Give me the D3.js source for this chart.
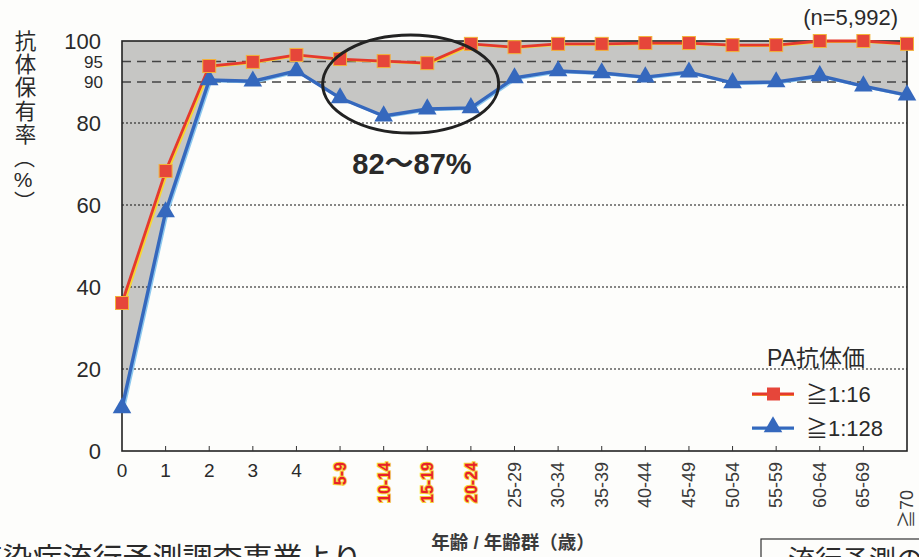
<!DOCTYPE html>
<html>
<head>
<meta charset="utf-8">
<script src="https://cdn.jsdelivr.net/npm/d3@7"></script>
<style>
  body { margin: 0; background: #fdfdfb; }
  svg { font-family: "Liberation Sans", "Noto Sans CJK JP", sans-serif; }
</style>
</head>
<body>
<svg width="919" height="557"></svg>
<script>
// age groups on the x axis
const ages = ['0', '1', '2', '3', '4', '5-9', '10-14', '15-19', '20-24', '25-29', '30-34',
    '35-39', '40-44', '45-49', '50-54', '55-59', '60-64', '65-69', '≧70']
const highlight = ['5-9', '10-14', '15-19', '20-24']

// antibody prevalence (%) by PA titer
const titer16 = [36.1, 68.3, 93.9, 94.9, 96.6, 95.6, 95.1, 94.6, 99.3, 98.5, 99.3,
    99.3, 99.5, 99.5, 99.0, 99.0, 100, 100, 99.3]
const titer128 = [10.5, 58.3, 90.5, 90.2, 92.7, 86.1, 81.7, 83.4, 83.7, 91.0, 92.7,
    92.2, 91.2, 92.4, 89.8, 90.0, 91.5, 89.0, 86.8]

const yTicks = [0, 20, 40, 60, 80, 90, 95, 100]
const dottedLines = [20, 40, 60, 80]
const dashedLines = [90, 95]

const svg = d3.select('svg')
const pLeft = 122, pRight = 907, pTop = 41, pBottom = 451

const x = d3.scalePoint().domain(ages).range([pLeft, pRight])
const y = d3.scaleLinear().domain([0, 100]).range([pBottom, pTop])

const red = '#e5392d', yellow = '#f7d631', blue = '#3568bd', lightBlue = '#8cc8ee'

// gray band between 100% and the >=1:128 line
const area = d3.area()
    .x((d, i) => x(ages[i]))
    .y0(y(100))
    .y1(d => y(d))
svg.append('path')
    .datum(titer128)
    .attr('d', area)
    .style('fill', '#c6c6c4')

// gridlines
svg.selectAll('line.dot')
    .data(dottedLines)
    .enter().append('line')
    .attr('x1', pLeft).attr('x2', pRight)
    .attr('y1', d => y(d)).attr('y2', d => y(d))
    .style('stroke', '#111')
    .style('stroke-width', 1.1)
    .style('stroke-dasharray', '2,2')
svg.selectAll('line.dash')
    .data(dashedLines)
    .enter().append('line')
    .attr('x1', pLeft).attr('x2', pRight)
    .attr('y1', d => y(d)).attr('y2', d => y(d))
    .style('stroke', '#444')
    .style('stroke-width', 1.3)
    .style('stroke-dasharray', '9,6')

// frame
svg.append('rect')
    .attr('x', pLeft).attr('y', pTop)
    .attr('width', pRight - pLeft).attr('height', pBottom - pTop)
    .style('fill', 'none')
    .style('stroke', '#222')
    .style('stroke-width', 1.6)

// x ticks pointing up
svg.selectAll('line.tick')
    .data(ages.slice(1, -1))
    .enter().append('line')
    .attr('x1', d => x(d)).attr('x2', d => x(d))
    .attr('y1', pBottom).attr('y2', pBottom - 5)
    .style('stroke', '#333')
    .style('stroke-width', 1)

// y tick labels
svg.selectAll('text.ytick')
    .data(yTicks)
    .enter().append('text')
    .attr('x', d => (d == 90 || d == 95) ? 103 : 101)
    .attr('y', d => y(d))
    .attr('dy', '0.36em')
    .attr('text-anchor', 'end')
    .style('font-size', d => (d == 90 || d == 95) ? '17px' : '22px')
    .style('fill', '#2a2a2a')
    .text(d => d)

// lines
const line = d3.line().x((d, i) => x(ages[i])).y(d => y(d))
svg.append('path').datum(titer128).attr('d', line)
    .attr('transform', 'translate(1.8,1)')
    .style('fill', 'none').style('stroke', lightBlue).style('stroke-width', 2.5)
svg.append('path').datum(titer128).attr('d', line)
    .style('fill', 'none').style('stroke', blue).style('stroke-width', 3.4)
svg.append('path').datum(titer16).attr('d', line)
    .attr('transform', 'translate(2,0.8)')
    .style('fill', 'none').style('stroke', yellow).style('stroke-width', 2.2)
svg.append('path').datum(titer16).attr('d', line)
    .style('fill', 'none').style('stroke', red).style('stroke-width', 2.8)

// markers
const tri = d3.symbol().type(d3.symbolTriangle).size(150)
svg.selectAll('path.tri')
    .data(titer128)
    .enter().append('path')
    .attr('d', tri)
    .attr('transform', (d, i) => `translate(${x(ages[i])},${y(d)})`)
    .style('fill', blue)
svg.selectAll('rect.sq')
    .data(titer16)
    .enter().append('rect')
    .attr('x', (d, i) => x(ages[i]) - 6.5)
    .attr('y', d => y(d) - 6.5)
    .attr('width', 13).attr('height', 13)
    .style('fill', '#e6463a')
    .style('stroke', '#f3b23a')
    .style('stroke-width', 1)

// x labels
const xl = svg.append('g')
ages.forEach(function (a, i) {
    if (i < 5) {
        xl.append('text')
            .attr('x', x(a)).attr('y', 477)
            .attr('text-anchor', 'middle')
            .style('font-size', '19px')
            .style('fill', '#2a2a2a')
            .text(a)
    } else {
        const hi = highlight.includes(a)
        const t = xl.append('text')
            .attr('transform', `translate(${x(a) + 6},${a == '≧70' ? 490 : 462}) rotate(-90)`)
            .attr('text-anchor', 'end')
            .style('font-size', hi ? '16px' : '18px')
            .style('fill', hi ? '#e8202a' : '#3a3a3a')
            .text(a)
        if (hi) {
            t.style('font-weight', 'bold')
                .style('stroke', '#f6d43a')
                .style('stroke-width', 2)
                .style('paint-order', 'stroke')
        }
    }
})

svg.append('text')
    .attr('x', 513).attr('y', 549)
    .attr('text-anchor', 'middle')
    .style('font-size', '18.5px')
    .style('font-weight', 'bold')
    .style('fill', '#3a3a3a')
    .text('年齢 / 年齢群（歳）')

// y axis title, vertical writing
svg.append('text')
    .attr('x', 23).attr('y', 30)
    .style('writing-mode', 'vertical-rl')
    .style('text-orientation', 'upright')
    .style('font-size', '21.5px')
    .style('letter-spacing', '1.7px')
    .style('fill', '#2a2a2a')
    .text('抗体保有率')
svg.append('text')
    .attr('x', 23).attr('y', 147)
    .style('writing-mode', 'vertical-rl')
    .style('text-orientation', 'upright')
    .style('font-size', '21px')
    .style('fill', '#2a2a2a')
    .text('（%）')

svg.append('text')
    .attr('x', 898).attr('y', 25)
    .attr('text-anchor', 'end')
    .style('font-size', '22px')
    .style('fill', '#2a2a2a')
    .text('(n=5,992)')

// annotation
svg.append('ellipse')
    .attr('cx', x('10-14') + 27).attr('cy', y(89.5))
    .attr('rx', 88).attr('ry', 49)
    .style('fill', 'none')
    .style('stroke', '#222')
    .style('stroke-width', 3)
svg.append('text')
    .attr('x', 412).attr('y', 174)
    .attr('text-anchor', 'middle')
    .style('font-size', '29px')
    .style('font-weight', 'bold')
    .style('fill', '#2a2a2a')
    .text('82～87%')

// legend
const lg = svg.append('g')
lg.append('text')
    .attr('x', 767).attr('y', 366)
    .style('font-size', '23px')
    .style('fill', '#2a2a2a')
    .text('PA抗体価')
const legendItems = [
    { label: '≧1:16', color: red, shadow: yellow, shape: 'sq', yy: 394 },
    { label: '≧1:128', color: blue, shadow: lightBlue, shape: 'tri', yy: 428 }
]
legendItems.forEach(function (it) {
    lg.append('line')
        .attr('x1', 752).attr('x2', 794)
        .attr('y1', it.yy + 1).attr('y2', it.yy + 1)
        .style('stroke', it.shadow).style('stroke-width', 2)
    lg.append('line')
        .attr('x1', 752).attr('x2', 794)
        .attr('y1', it.yy).attr('y2', it.yy)
        .style('stroke', it.color).style('stroke-width', 2.8)
    if (it.shape == 'sq') {
        lg.append('rect')
            .attr('x', 767).attr('y', it.yy - 6.5)
            .attr('width', 13).attr('height', 13)
            .style('fill', '#e6463a')
    } else {
        lg.append('path')
            .attr('d', tri)
            .attr('transform', `translate(773,${it.yy - 1})`)
            .style('fill', it.color)
    }
    lg.append('text')
        .attr('x', 806).attr('y', it.yy + 8)
        .style('font-size', '22px')
        .style('fill', '#2a2a2a')
        .text(it.label)
})

// cut-off page text at the bottom
svg.append('text')
    .attr('x', 362).attr('y', 569)
    .attr('text-anchor', 'end')
    .style('font-size', '30px')
    .style('fill', '#2a2a2a')
    .text('感染症流行予測調査事業より')
svg.append('rect')
    .attr('x', 761).attr('y', 539)
    .attr('width', 170).attr('height', 40)
    .style('fill', 'none')
    .style('stroke', '#333')
    .style('stroke-width', 1.2)
svg.append('text')
    .attr('x', 788).attr('y', 570)
    .style('font-size', '27px')
    .style('fill', '#2a2a2a')
    .text('流行予測の')
</script>
</body>
</html>
